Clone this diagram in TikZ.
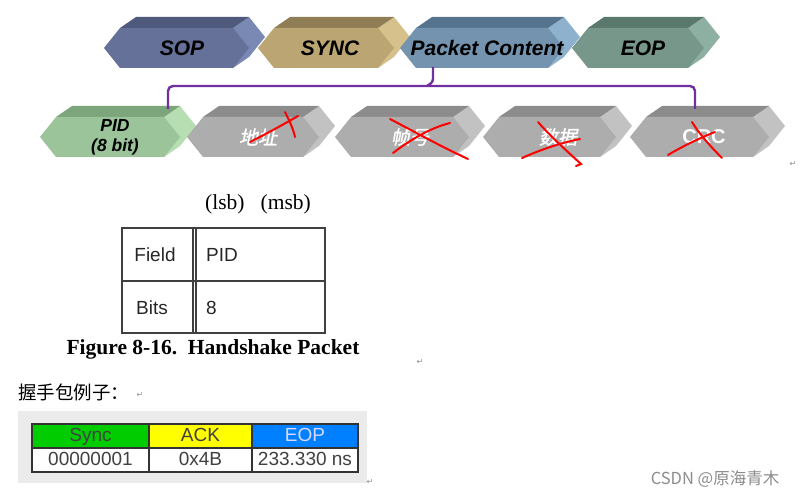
\documentclass[tikz,border=0pt]{standalone}
\usepackage{fontspec}
\setmainfont{Liberation Serif}
\setsansfont{Liberation Sans}
\newfontfamily\cjk{Noto Sans CJK SC}
\newfontfamily\cjkslant[FakeSlant=0.2,FakeBold=1.5]{Noto Sans CJK SC}
\newfontfamily\symfont{DejaVu Sans}
\usetikzlibrary{positioning}
\definecolor{sopfront}{RGB}{101,113,152}
\definecolor{soptop}{RGB}{78,89,124}
\definecolor{sopside}{RGB}{122,136,180}
\definecolor{syncfront}{RGB}{187,165,115}
\definecolor{synctop}{RGB}{143,125,85}
\definecolor{syncside}{RGB}{214,192,140}
\definecolor{pcfront}{RGB}{115,147,175}
\definecolor{pctop}{RGB}{85,115,140}
\definecolor{pcside}{RGB}{142,178,206}
\definecolor{eopfront}{RGB}{118,151,138}
\definecolor{eoptop}{RGB}{90,120,108}
\definecolor{eopside}{RGB}{142,176,163}
\definecolor{pidfront}{RGB}{155,196,154}
\definecolor{pidtop}{RGB}{125,165,124}
\definecolor{pidside}{RGB}{182,222,178}
\definecolor{grayfront}{RGB}{173,173,173}
\definecolor{graytop}{RGB}{140,140,140}
\definecolor{grayside}{RGB}{194,194,194}
\definecolor{bracepurple}{RGB}{112,48,160}
\definecolor{syncgreen}{RGB}{0,204,0}
\definecolor{ackyellow}{RGB}{255,255,0}
\definecolor{eopblue}{RGB}{0,128,255}
% extruded hexagon block: x0, xf, ytop, ybot, front, top, side
\newcommand{\pktblock}[7]{%
  \fill[#7] (#2,#3) -- ({#2+16},{#3-11}) -- ({#2+32},{(#3+#4)/2-11})
    -- ({#2+16},{#4-11}) -- (#2,#4) -- cycle;
  \fill[#6] ({#1+16},#3) -- ({#1+32},{#3-11}) -- ({#2+16},{#3-11}) -- (#2,#3) -- cycle;
  \fill[#5] (#1,{(#3+#4)/2}) -- ({#1+16},#3) -- (#2,#3) -- ({#2+16},{(#3+#4)/2})
    -- (#2,#4) -- ({#1+16},#4) -- cycle;
}
\begin{document}
\begin{tikzpicture}[x=1pt, y=-1pt,
        toplbl/.style={font=\sffamily\bfseries\itshape\fontsize{21}{23}\selectfont, text=black, inner sep=0},
        pidlbl/.style={font=\sffamily\bfseries\itshape\fontsize{17.5}{20}\selectfont, text=black,
                       align=center, inner sep=0},
        xlbl/.style={font=\cjkslant\fontsize{19}{21}\selectfont, text=white, inner sep=0},
        redmark/.style={draw=red, line width=2pt, line cap=round},
        brace/.style={draw=bracepurple, line width=2.4pt, rounded corners=5pt},
        cell/.style={draw=black!80, line width=1.2pt, minimum height=24, inner sep=0,
                     text height=13.5, text depth=3.5,
                     font=\sffamily\fontsize{19}{21}\selectfont, text=black!75},
        fldtxt/.style={font=\sffamily\fontsize{19}{21}\selectfont, inner sep=0, text=black!85},
        ret/.style={font=\symfont\fontsize{8}{9}\selectfont, text=black!45, inner sep=0}]
  \useasboundingbox (0,0) rectangle (805,497);

  % packet fields
  \pktblock{104}{233}{28}{68}{sopfront}{soptop}{sopside}
  \pktblock{258}{378}{28}{68}{syncfront}{synctop}{syncside}
  \pktblock{400}{548}{28}{68}{pcfront}{pctop}{pcside}
  \pktblock{572}{688}{28}{68}{eopfront}{eoptop}{eopside}
  \node[toplbl] (sop)  at (182,48) {SOP};
  \node[toplbl] (sync) at (330,48) {SYNC};
  \node[toplbl] (pc)   at (487,48) {Packet Content};
  \node[toplbl] (eop)  at (643,48) {EOP};

  % content fields
  \pktblock{40}{164}{117}{157}{pidfront}{pidtop}{pidside}
  \pktblock{187}{303}{117}{157}{grayfront}{graytop}{grayside}
  \pktblock{335}{453}{117}{157}{grayfront}{graytop}{grayside}
  \pktblock{483}{600}{117}{157}{grayfront}{graytop}{grayside}
  \pktblock{630}{753}{117}{157}{grayfront}{graytop}{grayside}
  \node[pidlbl] (pid)  at (115,137) {PID\\(8 bit)};
  \node[xlbl]   (addr) at (258,137) {地址};
  \node[xlbl]   (frm)  at (410,137) {帧号};
  \node[xlbl]   (data) at (558,137) {数据};
  \node[xlbl, font=\sffamily\bfseries\fontsize{20}{22}\selectfont] (crc) at (704,137) {CRC};

  % brace
  \coordinate (pidtopc) at (168,109);
  \coordinate (crctopc) at (695,109);
  \coordinate (pcbot) at (433,67);
  \draw[brace] (pidtopc) |- (crctopc |- 0,86) -- (crctopc);
  \draw[bracepurple, line width=2.4pt, rounded corners=3pt] (427,86) -- (433,82) -- (pcbot);

  % crossed out
  \draw[redmark] (250,142) .. controls (268,133) and (284,124) .. (298,116);
  \draw[redmark] (285,112) .. controls (289,120) and (293,128) .. (295,137);
  \draw[redmark] (390,119) .. controls (415,132) and (440,146) .. (468,159);
  \draw[redmark] (393,153) .. controls (410,140) and (430,128) .. (450,123);
  \draw[redmark] (538,122) .. controls (552,138) and (568,152) .. (581,164) -- (576,166);
  \draw[redmark] (522,158) .. controls (540,150) and (560,143) .. (580,139);
  \draw[redmark] (668,155) .. controls (683,146) and (700,138) .. (715,132);
  \draw[redmark] (692,122) .. controls (700,135) and (712,148) .. (722,158);
  \node[ret] (r1) at (793,164) {↵};

  % handshake packet format
  \node[font=\rmfamily\fontsize{21.5}{23}\selectfont, inner sep=0] (lsb) at (258,204) {(lsb)\ \ \ (msb)};
  \draw[black!75, line width=1.1pt] (122,228) rectangle (325,333);
  \draw[black!75, line width=1.1pt] (122,281) -- (325,281);
  \draw[black!75, line width=1.1pt] (193,228) -- (193,333);
  \draw[black!75, line width=1.1pt] (196,228) -- (196,333);
  \node[fldtxt] (fld)  at (155,255) {Field};
  \node[fldtxt, anchor=west] (pidv) at (206,255) {PID};
  \node[fldtxt] (bits) at (152,308) {Bits};
  \node[fldtxt, anchor=west] (bitv) at (206,308) {8};
  \node[font=\rmfamily\bfseries\fontsize{21.5}{23}\selectfont, inner sep=0] (cap) at (213,349)
    {Figure 8-16.\ \ Handshake Packet};
  \node[ret] (r2) at (420,362) {↵};

  % example
  \node[font=\cjk\fontsize{18.5}{20}\selectfont, anchor=west, inner sep=0] (ex) at (18,392) {握手包例子：};
  \node[ret] (r3) at (140,395) {↵};
  \fill[black!8] (18,411) rectangle (367,483);
  \node[cell, fill=syncgreen, minimum width=117] (hsync) at (90.5,436) {Sync};
  \node[cell, fill=ackyellow, minimum width=103] (hack)  at (200.5,436) {ACK};
  \node[cell, fill=eopblue, minimum width=106, text=white!85!blue] (heop) at (305,436) {EOP};
  \node[cell, fill=white, minimum width=117] (vsync) at (90.5,460) {00000001};
  \node[cell, fill=white, minimum width=103] (vack)  at (200.5,460) {0x4B};
  \node[cell, fill=white, minimum width=106] (veop)  at (305,460) {233.330 ns};
  \node[ret] (r4) at (370,482) {↵};

  \node[font=\cjk\fontsize{16.5}{18}\selectfont, text=black!45, inner sep=0] (wm) at (715,479) {CSDN @原海青木};
\end{tikzpicture}
\end{document}
